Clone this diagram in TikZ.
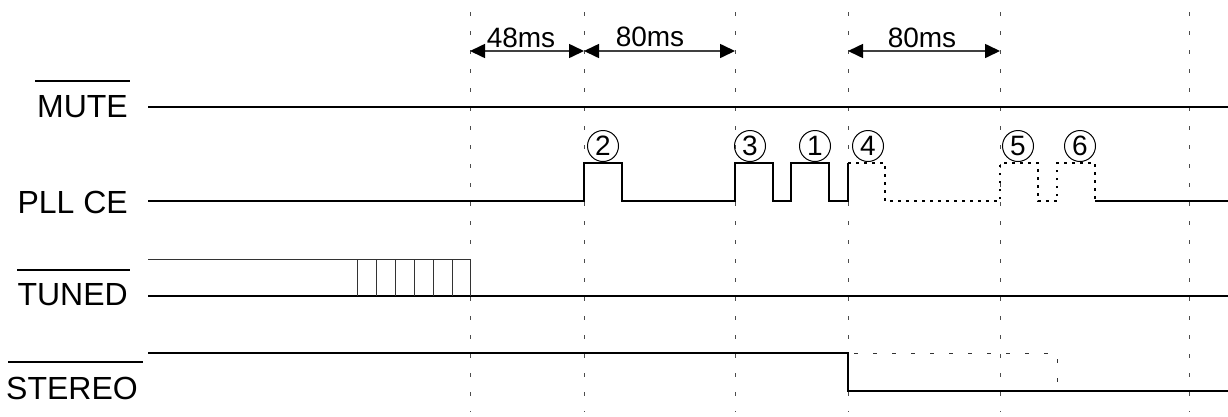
\documentclass[tikz,border=0pt]{standalone}
\usepackage{fontspec}
\setmainfont{Liberation Sans}
\usetikzlibrary{arrows.meta}
\tikzset{
  sig/.style={line width=2pt, black},
  sigdot/.style={line width=1.8pt, black, dash pattern=on 2.5pt off 5.5pt},
  thinsig/.style={line width=1pt, black!80},
  thindash/.style={line width=1pt, black!80, dash pattern=on 4pt off 15pt},
  guide/.style={line width=1pt, black!70, dash pattern=on 4pt off 15pt},
  lbl/.style={font=\fontsize{32}{32}\selectfont, inner sep=0pt, anchor=east},
  tlbl/.style={font=\fontsize{28}{28}\selectfont, inner sep=0pt},
  num/.style={circle, draw, line width=1pt, minimum size=31pt, inner sep=0pt, font=\fontsize{28}{28}\selectfont},
  dim/.style={line width=1.6pt, black!75, {Triangle[length=15pt,width=14pt,black]}-{Triangle[length=15pt,width=14pt,black]}}
}
\begin{document}
\begin{tikzpicture}[x=1pt,y=-1pt]
\useasboundingbox (0,0) rectangle (1228,416);
% guides
\foreach \gx in {470,584,735,848,1000,1189}
  \draw[guide] (\gx,12) -- (\gx,412);
% labels
\node[lbl] (mute) at (128,107) {MUTE};
\draw[line width=1.5pt] (35,81) -- (130,81);
\node[lbl] (pll) at (128,202) {PLL CE};
\node[lbl] (tuned) at (128,295) {TUNED};
\draw[line width=1.5pt] (17,270) -- (130,270);
\node[lbl] (stereo) at (138,388) {STEREO};
\draw[line width=1.5pt] (8,362) -- (143,362);
% timing arrows
\coordinate (a1) at (470,51);
\coordinate (a2) at (584,51);
\coordinate (a3) at (735,51);
\coordinate (a4) at (848,51);
\coordinate (a5) at (1000,51);
\draw[dim] (a1) -- (a2);
\draw[dim] (a2) -- (a3);
\draw[dim] (a4) -- (a5);
\node[tlbl] (t48) at (521,38) {48ms};
\node[tlbl] (t80a) at (650,37) {80ms};
\node[tlbl] (t80b) at (922,38) {80ms};
% MUTE
\draw[sig] (148,107) -- (1228,107);
% PLL CE
\draw[sig] (148,201) -- (584,201) -- (584,163) -- (622,163) -- (622,201) -- (735,201) -- (735,163) -- (773,163) -- (773,201) -- (791,201) -- (791,163) -- (829,163) -- (829,201) -- (848,201) -- (848,163);
\draw[sigdot] (848,163) -- (885,163) -- (885,201) -- (1000,201) -- (1000,163) -- (1038,163) -- (1038,201) -- (1057,201) -- (1057,163) -- (1095,163) -- (1095,201);
\draw[sig] (1095,201) -- (1228,201);
\node[num] (n2) at (603,146) {2};
\node[num] (n3) at (750,146) {3};
\node[num] (n1) at (815,146) {1};
\node[num] (n4) at (868,146) {4};
\node[num] (n5) at (1018,146) {5};
\node[num] (n6) at (1080,146) {6};
% TUNED
\draw[sig] (148,296) -- (1228,296);
\draw[thinsig] (148,259) -- (470,259);
\foreach \vx in {357,376,395,414,433,452,470}
  \draw[thinsig] (\vx,259) -- (\vx,296);
% STEREO
\draw[sig] (148,353) -- (848,353) -- (848,391) -- (1228,391);
\draw[thindash, dash phase=-6pt] (848,353) -- (1057,353) -- (1057,382);
\end{tikzpicture}
\end{document}
